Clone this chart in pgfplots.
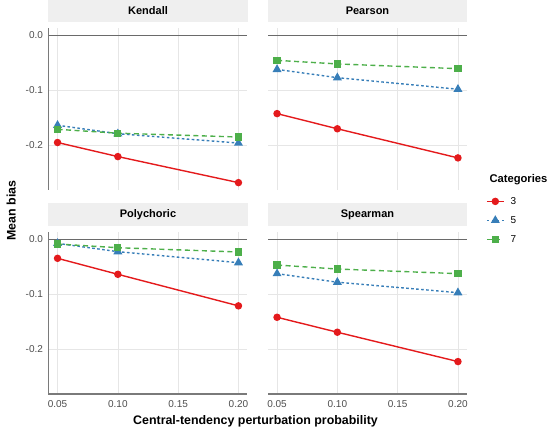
\documentclass[border=0pt]{standalone}
\usepackage{pgfplots}
\pgfplotsset{compat=1.18}
\usepackage{fontspec}
\setmainfont{Liberation Sans}
\definecolor{cred}{HTML}{E41A1C}
\definecolor{cblue}{HTML}{377EB8}
\definecolor{cgreen}{HTML}{4DAF4A}
\definecolor{stripgray}{HTML}{EFEFEF}
\definecolor{gridgray}{HTML}{E6E6E6}
\definecolor{axisgray}{HTML}{7A7A7A}
\definecolor{zerogray}{HTML}{6A6A6A}
\definecolor{ticktext}{HTML}{4D4D4D}
\pgfplotsset{
  panel/.style={
    scale only axis, width=199pt, height=162pt,
    xmin=0.0425, xmax=0.2075, ymin=-0.2814, ymax=0.0134,
    xtick={0.05,0.10,0.15,0.20}, ytick={-0.2,-0.1,0.0},
    xticklabels={0.05,0.10,0.15,0.20}, yticklabels={-0.2,-0.1,0.0},
    grid=major, major grid style={color=gridgray, line width=0.6pt},
    axis line style={draw=none}, tick style={draw=none},
    major tick length=0pt,
    tick label style={font=\fontsize{10}{12}\selectfont, text=ticktext},
    xticklabel style={yshift=-3.3pt},
    yticklabel style={xshift=-2pt},
    clip=false,
    title style={at={(0.5,1)}, anchor=south, yshift=0pt, fill=stripgray,
      minimum width=199pt, minimum height=22.5pt, inner sep=0pt,
      font=\fontsize{11}{13}\selectfont\bfseries},
  },
  s3/.style={color=cred, solid, line width=1.4pt, mark=*, mark size=3pt, mark options={solid}},
  s5/.style={color=cblue, line width=1.4pt, dash pattern=on 2.6pt off 2.4pt, mark=triangle*, mark size=3.8pt, mark options={solid}},
  s7/.style={color=cgreen, line width=1.4pt, dash pattern=on 5pt off 3.5pt, mark=square*, mark size=2.9pt, mark options={solid}},
  zero/.style={color=zerogray, line width=0.8pt, mark=none, solid, forget plot},
}
\tikzset{axisline/.style={draw=axisgray, line width=1.4pt}}
\begin{document}
\begin{tikzpicture}
\useasboundingbox (0,0) rectangle (550pt,433pt);
% Kendall
\begin{axis}[panel, at={(48.5pt,243pt)}, anchor=south west, title={Kendall}, xticklabels={}]
\addplot[zero] coordinates {(0.0425,0) (0.2075,0)};
\addplot[s3] coordinates {(0.05,-0.195) (0.10,-0.2206) (0.20,-0.268)};
\addplot[s5] coordinates {(0.05,-0.1636) (0.10,-0.179) (0.20,-0.196)};
\addplot[s7] coordinates {(0.05,-0.171) (0.10,-0.178) (0.20,-0.185)};
\draw[axisline] (rel axis cs:0,0) -- (rel axis cs:0,1);
\end{axis}
% Pearson
\begin{axis}[panel, at={(268pt,243pt)}, anchor=south west, title={Pearson}, xticklabels={}, yticklabels={}]
\addplot[zero] coordinates {(0.0425,0) (0.2075,0)};
\addplot[s3] coordinates {(0.05,-0.1424) (0.10,-0.170) (0.20,-0.223)};
\addplot[s5] coordinates {(0.05,-0.062) (0.10,-0.077) (0.20,-0.098)};
\addplot[s7] coordinates {(0.05,-0.0455) (0.10,-0.052) (0.20,-0.0606)};
\end{axis}
% Polychoric
\begin{axis}[panel, at={(48.5pt,39pt)}, anchor=south west, title={Polychoric}]
\addplot[zero] coordinates {(0.0425,0) (0.2075,0)};
\addplot[s3] coordinates {(0.05,-0.0345) (0.10,-0.0636) (0.20,-0.121)};
\addplot[s5] coordinates {(0.05,-0.0073) (0.10,-0.0224) (0.20,-0.0424)};
\addplot[s7] coordinates {(0.05,-0.0085) (0.10,-0.0152) (0.20,-0.023)};
\draw[axisline] (rel axis cs:0,0) -- (rel axis cs:0,1);
\draw[axisline] (rel axis cs:0,0) -- (rel axis cs:1,0);
\end{axis}
% Spearman
\begin{axis}[panel, at={(268pt,39pt)}, anchor=south west, title={Spearman}, yticklabels={},
  legend style={at={(1.080,1.2395)}, anchor=north west, draw=none, fill=none,
    font=\fontsize{10}{12}\selectfont, row sep=7pt,
    nodes={inner sep=2pt, text height=7pt, text depth=1pt},
    /tikz/every odd column/.append style={column sep=4pt}},
  legend cell align=left,
  legend image code/.code={\draw[mark repeat=2,mark phase=2,#1] plot coordinates {(0pt,0pt) (8.5pt,0pt) (17pt,0pt)};}]
\addplot[zero] coordinates {(0.0425,0) (0.2075,0)};
\addplot[s3] coordinates {(0.05,-0.1418) (0.10,-0.169) (0.20,-0.2224)};
\addplot[s5] coordinates {(0.05,-0.0624) (0.10,-0.078) (0.20,-0.097)};
\addplot[s7] coordinates {(0.05,-0.0467) (0.10,-0.054) (0.20,-0.0624)};
\draw[axisline] (rel axis cs:0,0) -- (rel axis cs:1,0);
\legend{3,5,7}
\end{axis}
\node[anchor=base west, font=\fontsize{11.2}{13}\selectfont\bfseries] at (486pt,250pt) {Categories};
\node[anchor=base, rotate=90, font=\fontsize{12.4}{14}\selectfont\bfseries] at (15.7pt,222.5pt) {Mean bias};
\node[anchor=center, font=\fontsize{12.4}{14}\selectfont\bfseries] at (255.5pt,11.3pt) {Central-tendency perturbation probability};
\end{tikzpicture}
\end{document}
